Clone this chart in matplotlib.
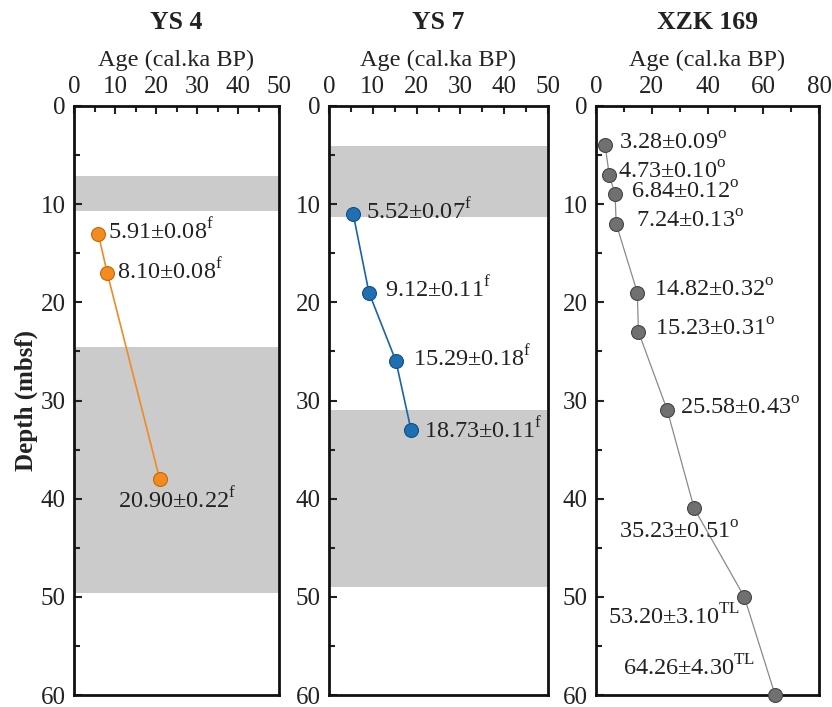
import matplotlib
matplotlib.use("Agg")
import matplotlib.pyplot as plt
from matplotlib.ticker import MultipleLocator

plt.rcParams['font.family'] = ['Liberation Serif', 'DejaVu Serif']
plt.rcParams['mathtext.fontset'] = 'custom'
plt.rcParams['mathtext.rm'] = 'Liberation Serif'

# data
ys4_age = [5.91, 8.10, 20.90]
ys4_depth = [13, 17, 38]
ys4_lab = ['5.91±0.08$^\\mathrm{f}$', '8.10±0.08$^\\mathrm{f}$', '20.90±0.22$^\\mathrm{f}$']
ys4_bands = [(7.1, 10.7), (24.5, 49.6)]

ys7_age = [5.52, 9.12, 15.29, 18.73]
ys7_depth = [11, 19, 26, 33]
ys7_lab = ['5.52±0.07$^\\mathrm{f}$', '9.12±0.11$^\\mathrm{f}$', '15.29±0.18$^\\mathrm{f}$',
           '18.73±0.11$^\\mathrm{f}$']
ys7_bands = [(4.1, 11.3), (31.0, 49.0)]

xzk_age = [3.28, 4.73, 6.84, 7.24, 14.82, 15.23, 25.58, 35.23, 53.20, 64.26]
xzk_depth = [4, 7, 9, 12, 19, 23, 31, 41, 50, 60]
xzk_lab = ['3.28±0.09$^\\mathrm{o}$', '4.73±0.10$^\\mathrm{o}$', '6.84±0.12$^\\mathrm{o}$',
           '7.24±0.13$^\\mathrm{o}$', '14.82±0.32$^\\mathrm{o}$', '15.23±0.31$^\\mathrm{o}$',
           '25.58±0.43$^\\mathrm{o}$', '35.23±0.51$^\\mathrm{o}$', '53.20±3.10$^\\mathrm{TL}$',
           '64.26±4.30$^\\mathrm{TL}$']

# label offsets (pixels), alignment
ys4_off = [(10, 2, 'left'), (10, 2, 'left'), (17, -21, 'center')]
ys7_off = [(13, 3, 'left'), (16, 3, 'left'), (17, 3, 'left'), (13, 0, 'left')]
xzk_off = [(14, 2, 'left'), (9, 2, 'left'), (16, 2, 'left'), (20, 2, 'left'),
           (17, 2, 'left'), (17, 2, 'left'), (13, 2, 'left'), (-15, -24, 'center'),
           (-70, -20, 'center'), (-86, 27, 'center')]

fig = plt.figure(figsize=(8.32, 7.07), dpi=100)
W, H = 832, 707
top, bot = 106, 695
panels = [
    ("YS 4", 74, 279, 50, 10, 5, ys4_age, ys4_depth, ys4_lab, ys4_off, ys4_bands,
     '#f28c1e', '#c9650a', '#f08a24', 1.2),
    ("YS 7", 329, 548, 50, 10, 5, ys7_age, ys7_depth, ys7_lab, ys7_off, ys7_bands,
     '#1f6fb2', '#0d4f8a', '#1a64a6', 1.2),
    ("XZK 169", 596, 819, 80, 20, 10, xzk_age, xzk_depth, xzk_lab, xzk_off, [],
     '#707070', '#454545', '#8a8a8a', 0.9),
]

for i, (title, x0, x1, xmax, maj, mnr, age, depth, labs, offs, bands,
        fc, ec, lc, lw) in enumerate(panels):
    ax = fig.add_axes([x0 / W, 1 - bot / H, (x1 - x0) / W, (bot - top) / H])
    for b0, b1 in bands:
        ax.axhspan(b0, b1, color='#cbcbcb', lw=0, zorder=0)
    ax.plot(age, depth, color=lc, lw=lw, zorder=2)
    ax.plot(age, depth, 'o', ms=10, mfc=fc, mec=ec, mew=0.8, zorder=3, clip_on=False)
    for a, d, t, (dx, dy, ha) in zip(age, depth, labs, offs):
        ax.annotate(t, (a, d), xytext=(dx, dy), textcoords='offset pixels',
                    ha=ha, va='center', fontsize=17.5, color='#222222')
    ax.set_xlim(0, xmax)
    ax.set_ylim(60, 0)
    ax.xaxis.set_major_locator(MultipleLocator(maj))
    ax.xaxis.set_minor_locator(MultipleLocator(mnr))
    ax.yaxis.set_major_locator(MultipleLocator(10))
    ax.yaxis.set_minor_locator(MultipleLocator(5))
    ax.xaxis.tick_top()
    ax.xaxis.set_label_position('top')
    ax.tick_params(which='both', direction='in', width=1.5, labelsize=18,
                   top=True, bottom=False, left=True, right=False, colors='#222222')
    ax.tick_params(which='major', length=6, pad=6)
    ax.tick_params(which='minor', length=4)
    for s in ax.spines.values():
        s.set_linewidth(2)
        s.set_color('#111111')
    ax.set_xlabel('Age (cal.ka BP)', fontsize=17.5, labelpad=7, color='#222222')
    ax.set_title(title, fontsize=18.5, fontweight='bold', pad=15, color='#222222')
    if i == 0:
        ax.set_ylabel('Depth (mbsf)', fontsize=18, fontweight='bold', labelpad=2,
                      color='#222222')

fig.savefig('out.png', dpi=100)
